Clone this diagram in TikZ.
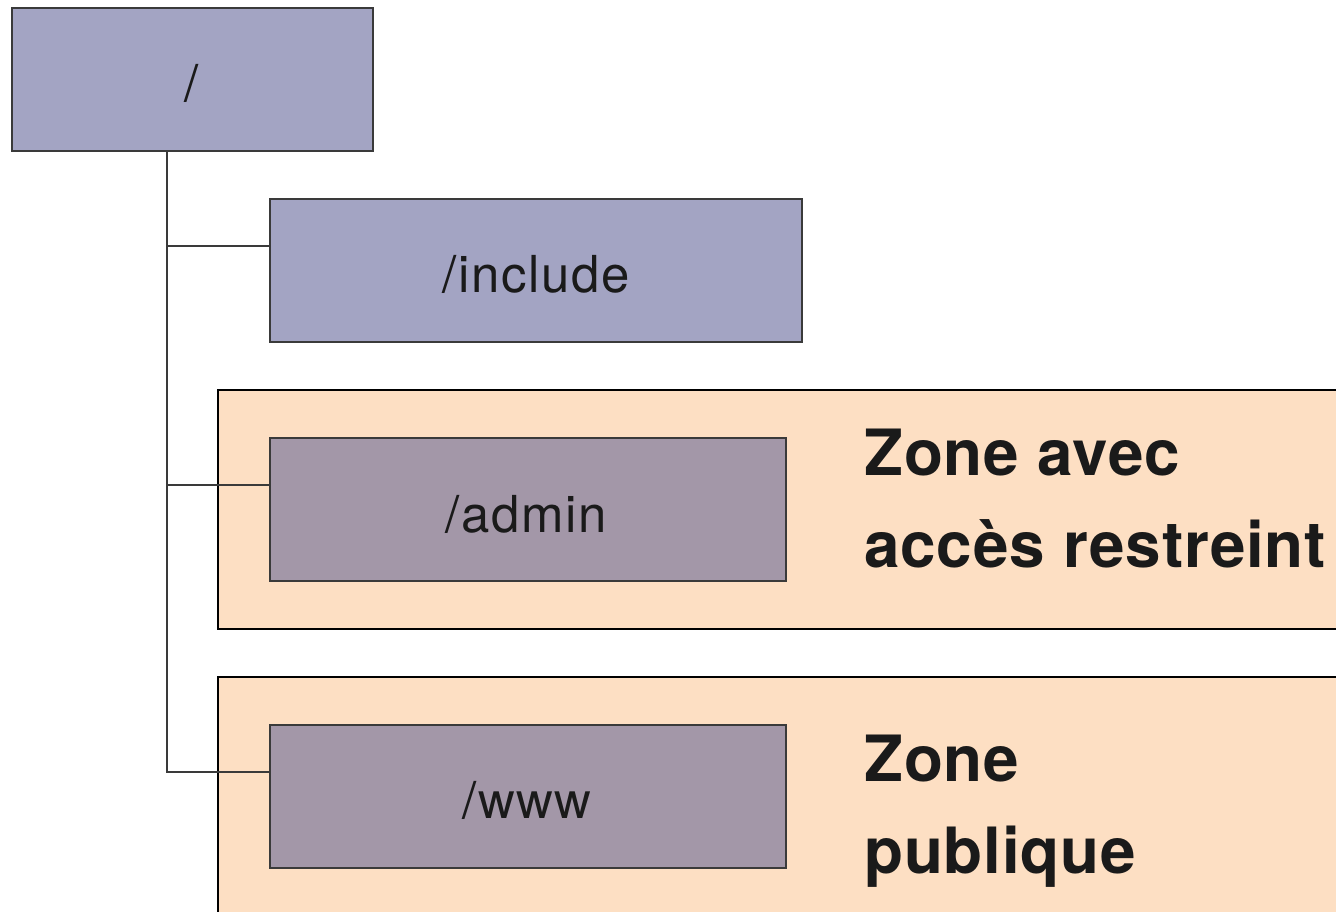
\documentclass[tikz,border=0pt]{standalone}
\usepackage{fontspec}
\setmainfont{TeX Gyre Heros}
\newfontfamily\dirfont[LetterSpace=3.2]{TeX Gyre Heros}
\newfontfamily\zonefont[LetterSpace=1.3]{TeX Gyre Heros}
\definecolor{dirblue}{HTML}{A3A4C3}
\definecolor{dirmauve}{HTML}{A397A8}
\definecolor{zonepeach}{HTML}{FDDFC3}
\definecolor{linegray}{HTML}{3A3A3A}
\definecolor{txt}{HTML}{1A1A1A}
\tikzset{
  zonebox/.style={draw=black, line width=0.6pt, fill=zonepeach},
  dirlabel/.style={font=\dirfont\fontsize{29}{34}\selectfont, text=txt, anchor=base, inner sep=0pt},
  zonelabel/.style={font=\zonefont\fontsize{36.3}{52.2}\selectfont\bfseries, text=txt, anchor=base west, inner sep=0pt, align=left},
  conn/.style={draw=linegray, line width=0.6pt},
}
\begin{document}
\begin{tikzpicture}[x=0.02cm, y=-0.02cm]
\useasboundingbox (0,0) rectangle (1336,912);
% zones
\path[zonebox] (218,390) rectangle (1345,629);
\path[zonebox] (218,677) rectangle (1345,920);
% directory boxes
\draw[linegray, line width=0.6pt, fill=dirblue] (12,8) rectangle (373,151);
\node[dirlabel] (root) at (192,102) {/};
\coordinate (rootbot) at (167,151);
\draw[linegray, line width=0.6pt, fill=dirblue] (270,199) rectangle (802,342);
\coordinate (incw) at (270,246);
\node[dirlabel] (inc) at (536,293) {/include};
\draw[linegray, line width=0.6pt, fill=dirmauve] (270,438) rectangle (786,581);
\coordinate (admw) at (270,485);
\node[dirlabel] (adm) at (526,532) {/admin};
\draw[linegray, line width=0.6pt, fill=dirmauve] (270,725) rectangle (786,868);
\coordinate (wwww) at (270,772);
\node[dirlabel] (www) at (527,818) {/www};
% connectors
\draw[conn] (rootbot) |- (wwww);
\draw[conn] (rootbot |- incw) -- (incw);
\draw[conn] (rootbot |- admw) -- (admw);
% zone labels
\node[zonelabel] (z1) at (864,475) {Zone avec};
\node[zonelabel] (z1b) at (864,567) {accès restreint};
\node[zonelabel] (z2) at (864,781) {Zone};
\node[zonelabel] (z2b) at (864,873) {publique};
\end{tikzpicture}
\end{document}
